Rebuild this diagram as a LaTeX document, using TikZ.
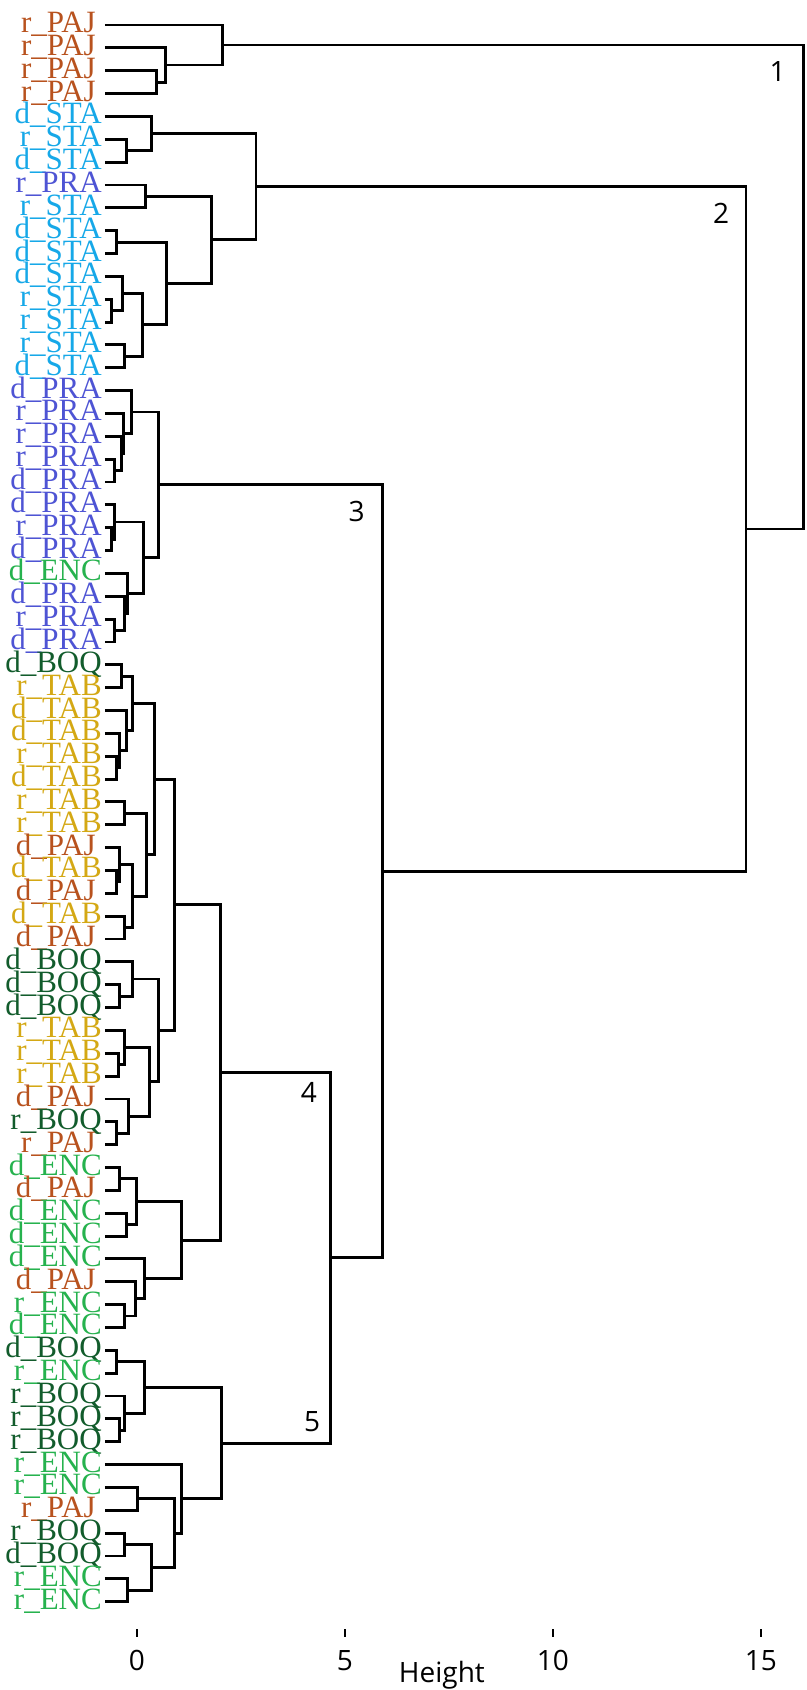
\documentclass[tikz,border=0pt]{standalone}
\usepackage{fontspec}
\setmainfont{Liberation Serif}
\newfontfamily\axisfont{Open Sans}
\usetikzlibrary{calc}

\definecolor{PAJ}{RGB}{184,82,30}
\definecolor{STA}{RGB}{22,168,232}
\definecolor{PRA}{RGB}{78,84,212}
\definecolor{ENC}{RGB}{38,178,78}
\definecolor{BOQ}{RGB}{18,92,44}
\definecolor{TAB}{RGB}{212,168,20}

% join two subtrees #2 and #3 at height #4, new point is #1
\newcommand\clmerge[4]{%
  \coordinate (mid) at ($(#2)!0.5!(#3)$);
  \coordinate (#1) at (#4,0 |- mid);
  \draw[branch] (#2) -| (#1 |- #3) -- (#3);
}

\begin{document}
\begin{tikzpicture}[
  x=41.6pt, y=-22.85pt,
  branch/.style={line width=2.9pt},
  leaflab/.style={
    anchor=base east,
    inner sep=0pt,
    xshift=-3pt,
    yshift=-7.5pt,
    font=\fontsize{31}{31}\selectfont
  },
  site PAJ/.style={xshift=-6pt},
  site STA/.style={},
  site PRA/.style={},
  site ENC/.style={},
  site BOQ/.style={},
  site TAB/.style={},
  clusterlab/.style={font=\axisfont\fontsize{28}{28}\selectfont, inner sep=0pt},
  axislab/.style={font=\axisfont\fontsize{28}{28}\selectfont, anchor=base, inner sep=0pt},
  tickmark/.style={line width=1.2pt}
]
  \useasboundingbox (-3.293,-0.094) rectangle (16.106,73.867);

  % leaves
  \foreach \p/\s [count=\i] in {
    r/PAJ,r/PAJ,r/PAJ,r/PAJ,
    d/STA,r/STA,d/STA,r/PRA,r/STA,d/STA,d/STA,d/STA,r/STA,r/STA,r/STA,d/STA,
    d/PRA,r/PRA,r/PRA,r/PRA,d/PRA,d/PRA,r/PRA,d/PRA,d/ENC,d/PRA,r/PRA,d/PRA,
    d/BOQ,r/TAB,d/TAB,d/TAB,r/TAB,d/TAB,r/TAB,r/TAB,d/PAJ,d/TAB,d/PAJ,d/TAB,d/PAJ,
    d/BOQ,d/BOQ,d/BOQ,r/TAB,r/TAB,r/TAB,d/PAJ,r/BOQ,r/PAJ,
    d/ENC,d/PAJ,d/ENC,d/ENC,d/ENC,d/PAJ,r/ENC,d/ENC,
    d/BOQ,r/ENC,r/BOQ,r/BOQ,r/BOQ,r/ENC,r/ENC,r/PAJ,r/BOQ,d/BOQ,r/ENC,r/ENC}
  {
    \coordinate (l\i) at (-0.77,\i);
    \node[leaflab, site \s, text=\s] (t\i) at (l\i) {\p\_\s};
  }

  % cluster 1
  \clmerge{m3x4}{l3}{l4}{0.47}
  \clmerge{m2x4}{l2}{m3x4}{0.69}
  \clmerge{m1x4}{l1}{m2x4}{2.06}

  % STA
  \clmerge{m6x7}{l6}{l7}{-0.25}
  \clmerge{m5x7}{l5}{m6x7}{0.34}
  \clmerge{m8x9}{l8}{l9}{0.21}
  \clmerge{m10x11}{l10}{l11}{-0.50}
  \clmerge{m13x14}{l13}{l14}{-0.61}
  \clmerge{m12x14}{l12}{m13x14}{-0.34}
  \clmerge{m15x16}{l15}{l16}{-0.29}
  \clmerge{m12x16}{m12x14}{m15x16}{0.14}
  \clmerge{m10x16}{m10x11}{m12x16}{0.71}
  \clmerge{m8x16}{m8x9}{m10x16}{1.80}
  \clmerge{m5x16}{m5x7}{m8x16}{2.86}

  % PRA
  \clmerge{m20x21}{l20}{l21}{-0.55}
  \clmerge{m19x21}{l19}{m20x21}{-0.37}
  \clmerge{m18x21}{l18}{m19x21}{-0.33}
  \clmerge{m17x21}{l17}{m18x21}{-0.13}
  \clmerge{m23x24}{l23}{l24}{-0.61}
  \clmerge{m22x24}{l22}{m23x24}{-0.53}
  \clmerge{m27x28}{l27}{l28}{-0.55}
  \clmerge{m26x28}{l26}{m27x28}{-0.31}
  \clmerge{m25x28}{l25}{m26x28}{-0.23}
  \clmerge{m22x28}{m22x24}{m25x28}{0.15}
  \clmerge{m17x28}{m17x21}{m22x28}{0.51}

  % cluster 4
  \clmerge{m29x30}{l29}{l30}{-0.37}
  \clmerge{m33x34}{l33}{l34}{-0.49}
  \clmerge{m32x34}{l32}{m33x34}{-0.43}
  \clmerge{m31x34}{l31}{m32x34}{-0.26}
  \clmerge{m29x34}{m29x30}{m31x34}{-0.10}
  \clmerge{m35x36}{l35}{l36}{-0.29}
  \clmerge{m38x39}{l38}{l39}{-0.50}
  \clmerge{m37x39}{l37}{m38x39}{-0.43}
  \clmerge{m40x41}{l40}{l41}{-0.29}
  \clmerge{m37x41}{m37x39}{m40x41}{-0.11}
  \clmerge{m35x41}{m35x36}{m37x41}{0.22}
  \clmerge{m29x41}{m29x34}{m35x41}{0.43}
  \clmerge{m43x44}{l43}{l44}{-0.43}
  \clmerge{m42x44}{l42}{m43x44}{-0.11}
  \clmerge{m46x47}{l46}{l47}{-0.45}
  \clmerge{m45x47}{l45}{m46x47}{-0.29}
  \clmerge{m49x50}{l49}{l50}{-0.50}
  \clmerge{m48x50}{l48}{m49x50}{-0.21}
  \clmerge{m45x50}{m45x47}{m48x50}{0.29}
  \clmerge{m42x50}{m42x44}{m45x50}{0.51}
  \clmerge{m29x50}{m29x41}{m42x50}{0.91}
  \clmerge{m51x52}{l51}{l52}{-0.43}
  \clmerge{m53x54}{l53}{l54}{-0.26}
  \clmerge{m51x54}{m51x52}{m53x54}{-0.02}
  \clmerge{m57x58}{l57}{l58}{-0.29}
  \clmerge{m56x58}{l56}{m57x58}{-0.03}
  \clmerge{m55x58}{l55}{m56x58}{0.17}
  \clmerge{m51x58}{m51x54}{m55x58}{1.07}
  \clmerge{m29x58}{m29x50}{m51x58}{2.00}

  % cluster 5
  \clmerge{m59x60}{l59}{l60}{-0.49}
  \clmerge{m62x63}{l62}{l63}{-0.43}
  \clmerge{m61x63}{l61}{m62x63}{-0.29}
  \clmerge{m59x63}{m59x60}{m61x63}{0.17}
  \clmerge{m65x66}{l65}{l66}{0.01}
  \clmerge{m67x68}{l67}{l68}{-0.29}
  \clmerge{m69x70}{l69}{l70}{-0.23}
  \clmerge{m67x70}{m67x68}{m69x70}{0.35}
  \clmerge{m65x70}{m65x66}{m67x70}{0.91}
  \clmerge{m64x70}{l64}{m65x70}{1.07}
  \clmerge{m59x70}{m59x63}{m64x70}{2.04}

  % top levels
  \clmerge{m29x70}{m29x58}{m59x70}{4.66}
  \clmerge{m17x70}{m17x28}{m29x70}{5.90}
  \clmerge{m5x70}{m5x16}{m17x70}{14.64}
  \clmerge{m1x70}{m1x4}{m5x70}{16.03}

  % cluster numbers
  \node[clusterlab] (num1) at ($(m1x70 |- m1x4)+(-0.63,1.18)$) {1};
  \node[clusterlab] (num2) at ($(m5x70 |- m5x16)+(-0.60,1.15)$) {2};
  \node[clusterlab] (num3) at ($(m17x70 |- m17x28)+(-0.62,1.15)$) {3};
  \node[clusterlab] (num4) at ($(m29x70 |- m29x58)+(-0.53,0.85)$) {4};
  \node[clusterlab] (num5) at ($(m29x70 |- m59x70)+(-0.45,-0.95)$) {5};

  % axis
  \foreach \t in {0,5,10,15} {
    \draw[tickmark] (\t,71.2) -- (\t,71.55);
    \node[axislab] (tick\t) at (\t,73.0) {\t};
  }
  \node[axislab] (htitle) at (7.33,73.55) {Height};
\end{tikzpicture}
\end{document}
